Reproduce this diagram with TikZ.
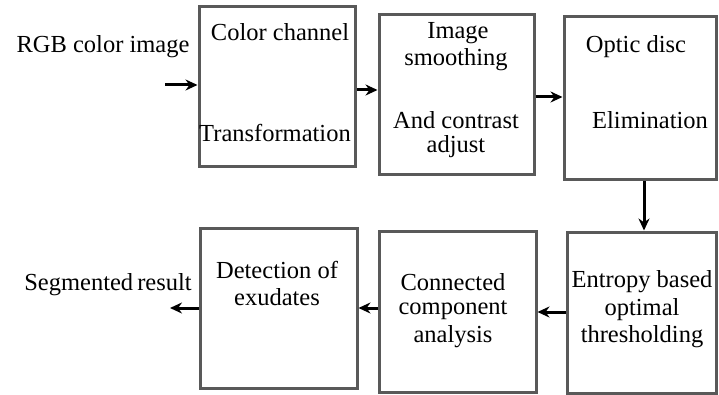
\documentclass[tikz,border=0pt]{standalone}
\usepackage{fontspec}
\setmainfont{Liberation Serif}
\usetikzlibrary{arrows.meta}
\begin{document}
\begin{tikzpicture}[x=1pt,y=-1pt,
  box/.style={draw=black!65,line width=3pt,fill=white,minimum width=#1,inner sep=0pt},
  lbl/.style={font=\fontsize{24.5}{26}\selectfont,inner sep=0pt,align=center},
  arr/.style={line width=3pt,-{Stealth[length=12pt,width=11pt]}}]
\useasboundingbox (0,0) rectangle (719,395);
\node[box=156pt,minimum height=160pt] (b1) at (277,87) {};
\node[box=155pt,minimum height=160pt] (b2) at (456.5,95) {};
\node[box=152pt,minimum height=163pt] (b3) at (640,98.5) {};
\node[box=149pt,minimum height=161pt] (b4) at (641.5,312.5) {};
\node[box=157pt,minimum height=161pt] (b5) at (457.5,311.5) {};
\node[box=157pt,minimum height=160pt] (b6) at (278.5,308) {};
\node[lbl] (tin) at (103,47) {RGB color image};
\node[lbl] (tout) at (108,285) {Segmented\,result};
\node[lbl] (t1a) at (280,32) {Color channel};
\node[lbl] (t1b) at (275,133) {Transformation};
\node[lbl] (t2a) at (458,33) {Image};
\node[lbl] (t2b) at (456,60) {smoothing};
\node[lbl] (t2c) at (456,120) {And contrast};
\node[lbl] (t2d) at (456,147) {adjust};
\node[lbl] (t3a) at (636,47) {Optic disc};
\node[lbl] (t3b) at (650,120) {Elimination};
\node[lbl] (t4a) at (642,282) {Entropy based};
\node[lbl] (t4b) at (642,310) {optimal};
\node[lbl] (t4c) at (642,337) {thresholding};
\node[lbl] (t5a) at (453,282) {Connected};
\node[lbl] (t5b) at (453,310) {component};
\node[lbl] (t5c) at (453,337) {analysis};
\node[lbl] (t6a) at (277,270) {Detection of};
\node[lbl] (t6b) at (277,297) {exudates};
\coordinate (cin) at (165,85);
\coordinate (cout) at (170,308);
\draw[arr] (cin) -- (cin -| b1.west);
\draw[arr] (b1.east |- 0,90) -- (b2.west |- 0,90);
\draw[arr] (b2.east |- 0,97) -- (b3.west |- 0,97);
\draw[arr] (b3.south -| 644,0) -- (b4.north -| 644,0);
\draw[arr] (b4.west |- 0,312) -- (b5.east |- 0,312);
\draw[arr] (b5.west |- 0,308) -- (b6.east |- 0,308);
\draw[arr] (b6.west |- cout) -- (cout);
\end{tikzpicture}
\end{document}
